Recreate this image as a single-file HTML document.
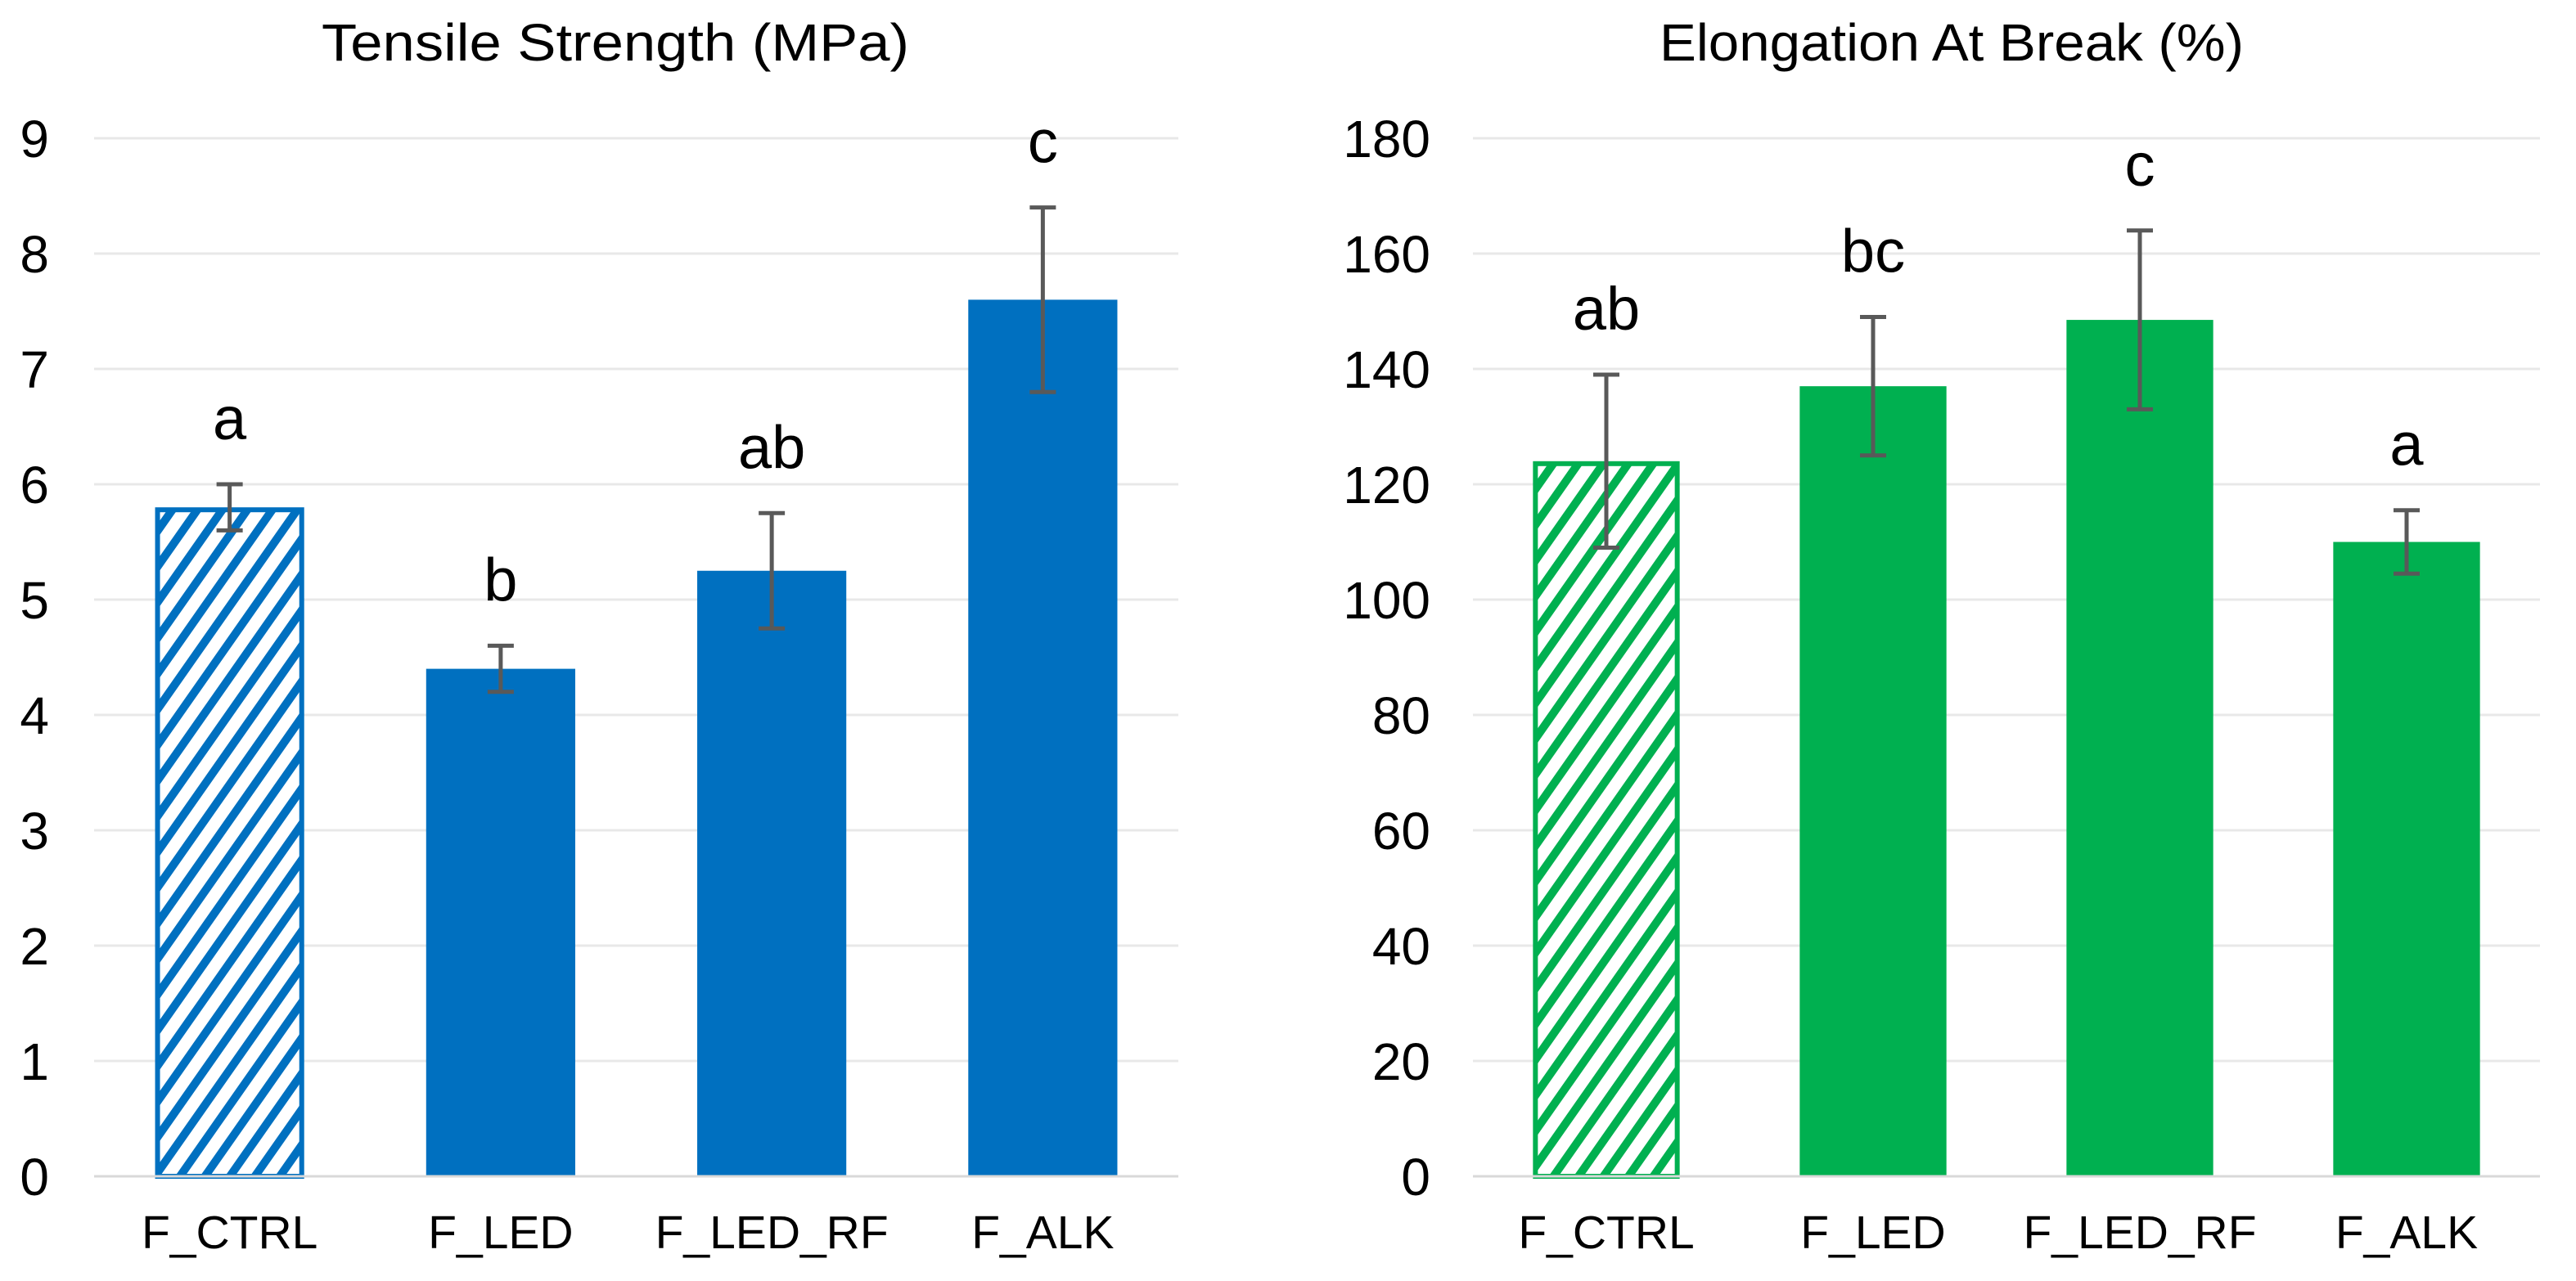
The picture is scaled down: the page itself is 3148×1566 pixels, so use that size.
<!DOCTYPE html>
<html><head><meta charset="utf-8"><style>
html,body{margin:0;padding:0;background:#fff;}
svg{display:block;font-family:"Liberation Sans",Arial,sans-serif;}
</style></head><body>
<svg id="chart" width="3148" height="1566" viewBox="0 0 3148 1566" xmlns="http://www.w3.org/2000/svg">
<defs>
<pattern id="hatchBlue" patternUnits="userSpaceOnUse" width="25" height="25" patternTransform="rotate(35)">
<rect width="25" height="25" fill="#fff"/><rect x="0" y="0" width="10" height="25" fill="#0070c0"/></pattern>
<pattern id="hatchGreen" patternUnits="userSpaceOnUse" width="25" height="25" patternTransform="rotate(35)">
<rect width="25" height="25" fill="#fff"/><rect x="0" y="0" width="10" height="25" fill="#00b050"/></pattern>
</defs>
</svg>
<script>
const categories = ["F_CTRL","F_LED","F_LED_RF","F_ALK"];
const tensileValues = [5.8, 4.4, 5.25, 7.6];
const tensileErrors = [0.2, 0.2, 0.5, 0.8];
const tensileLetters = ["a","b","ab","c"];
const tensileTicks = [0,1,2,3,4,5,6,7,8,9];
const elongValues = [124, 137, 148.5, 110];
const elongErrors = [15, 12, 15.5, 5.5];
const elongLetters = ["ab","bc","c","a"];
const elongTicks = [0,20,40,60,80,100,120,140,160,180];

const NS = "http://www.w3.org/2000/svg";
const svg = document.getElementById("chart");
function mk(tag, attrs, parent){
  const e = document.createElementNS(NS, tag);
  for (const k in attrs) e.setAttribute(k, attrs[k]);
  (parent||svg).appendChild(e); return e;
}

function drawChart(cfg){
  const g = mk("g", {});
  
  
  const y0 = 1438, yTop = 169;
  const maxT = cfg.ticks[cfg.ticks.length-1];
  const yS = v => y0 - (v/maxT)*(y0-yTop);
  const band = (cfg.x1-cfg.x0)/cfg.cats.length;
  const xC = i => cfg.x0 + band*(i+0.5);

  const t = mk("text", {x:cfg.titleX, y:74, "font-size":64, "text-anchor":"middle", fill:"#000", textLength:cfg.titleLen, lengthAdjust:"spacingAndGlyphs"}, g);
  t.textContent = cfg.title;
  
  

  cfg.ticks.forEach(v=>{
    const y = yS(v);
    if (v>0){
      const gl = mk("line", {x1:cfg.x0, x2:cfg.x1, y1:y, y2:y, stroke:"#e8e8e8", "stroke-width":3}, g);
      
      
    }
    const tl = mk("text", {x:cfg.labelX, y:y+23, "font-size":64, "text-anchor":"end", fill:"#000"}, g);
    tl.textContent = v;
    
    
  });

  const bw = band*0.55;
  cfg.cats.forEach((c,i)=>{
    const cx = xC(i), v = cfg.vals[i], e = cfg.errs[i];
    const hatched = i===0;
    const b = mk("rect", {x:cx-bw/2+(hatched?3:0), y:yS(v)+(hatched?3:0), width:bw-(hatched?6:0), height:y0-yS(v)-(hatched?3:0),
      fill: hatched ? cfg.hatch : cfg.color, stroke: hatched?cfg.color:"none", "stroke-width":6}, g);
    
    

    const eg = mk("g", {stroke:"#595959", "stroke-width":5}, g);
    
    
    mk("line", {x1:cx, x2:cx, y1:yS(v+e), y2:yS(v-e)}, eg);
    mk("line", {x1:cx-16, x2:cx+16, y1:yS(v+e), y2:yS(v+e)}, eg);
    mk("line", {x1:cx-16, x2:cx+16, y1:yS(v-e), y2:yS(v-e)}, eg);

    const lt = mk("text", {x:cx, y:yS(v+e)-55, "font-size":74, "text-anchor":"middle", fill:"#000"}, g);
    lt.textContent = cfg.letters[i];
    
    

    const xl = mk("text", {x:cx, y:1526, "font-size":57, "text-anchor":"middle", fill:"#000"}, g);
    xl.textContent = c;
    
    
  });

  const ax = mk("line", {x1:cfg.x0, x2:cfg.x1, y1:y0, y2:y0, stroke:"#d9d9d9", "stroke-width":3}, g);
  
  
}

drawChart({name:"tensile-strength-chart", title:"Tensile Strength (MPa)", titleX:752, titleLen:718, x0:115, x1:1440, labelX:60,
  ticks:tensileTicks, cats:categories, vals:tensileValues, errs:tensileErrors, letters:tensileLetters,
  color:"#0070c0", hatch:"url(#hatchBlue)"});
drawChart({name:"elongation-chart", title:"Elongation At Break (%)", titleX:2385, titleLen:714, x0:1800, x1:3104, labelX:1748,
  ticks:elongTicks, cats:categories, vals:elongValues, errs:elongErrors, letters:elongLetters,
  color:"#00b050", hatch:"url(#hatchGreen)"});
</script>
</body></html>
